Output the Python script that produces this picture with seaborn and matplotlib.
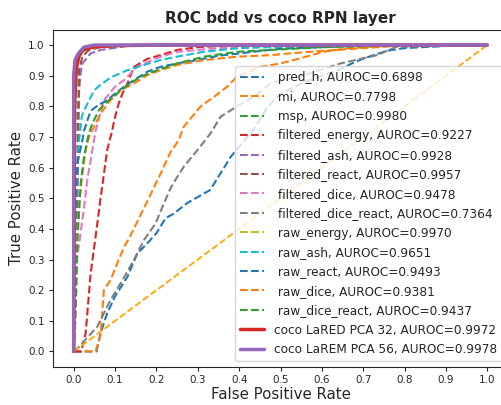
import matplotlib

matplotlib.use("Agg")

import matplotlib.pyplot as plt
import seaborn as sns

# ROC points (fpr, tpr)
pred_h_fpr = [0, 0.055, 0.065, 0.081, 0.10, 0.13, 0.154, 0.178, 0.20, 0.222, 0.242, 0.275, 0.33, 0.38, 0.435, 0.47, 0.5, 0.55, 0.6, 0.64, 0.68, 0.72, 0.76, 0.8, 0.9, 1.0]
pred_h_tpr = [0, 0, 0.06, 0.125, 0.18, 0.244, 0.32, 0.353, 0.386, 0.435, 0.45, 0.485, 0.527, 0.636, 0.725, 0.8, 0.84, 0.875, 0.9, 0.918, 0.945, 0.965, 0.982, 0.99, 0.997, 1.0]

mi_fpr = [0, 0.053, 0.065, 0.073, 0.089, 0.10, 0.122, 0.134, 0.154, 0.178, 0.21, 0.234, 0.254, 0.266, 0.307, 0.339, 0.371, 0.395, 0.452, 0.5, 0.548, 0.604, 0.661, 0.72, 0.8, 1.0]
mi_tpr = [0, 0, 0.054, 0.2, 0.233, 0.27, 0.342, 0.369, 0.424, 0.49, 0.58, 0.65, 0.69, 0.733, 0.8, 0.831, 0.864, 0.897, 0.929, 0.94, 0.957, 0.978, 0.989, 0.995, 1.0, 1.0]

msp_fpr = [0, 0.003, 0.006, 0.012, 0.02, 0.04, 0.08, 0.2, 1.0]
msp_tpr = [0, 0.6, 0.95, 0.975, 0.988, 0.995, 0.998, 1.0, 1.0]

f_energy_fpr = [0, 0.018, 0.029, 0.041, 0.053, 0.065, 0.081, 0.093, 0.098, 0.109, 0.118, 0.13, 0.146, 0.178, 0.21, 0.25, 0.3, 0.4, 1.0]
f_energy_tpr = [0, 0, 0.06, 0.255, 0.375, 0.5, 0.657, 0.72, 0.755, 0.81, 0.842, 0.875, 0.929, 0.955, 0.967, 0.984, 0.993, 1.0, 1.0]

f_ash_fpr = [0, 0.008, 0.013, 0.017, 0.021, 0.041, 0.065, 0.13, 0.25, 1.0]
f_ash_tpr = [0, 0.4, 0.85, 0.91, 0.94, 0.973, 0.984, 0.997, 1.0, 1.0]

f_react_fpr = [0, 0.008, 0.011, 0.013, 0.021, 0.035, 0.06, 0.12, 0.3, 1.0]
f_react_tpr = [0, 0.5, 0.8, 0.92, 0.962, 0.982, 0.992, 0.998, 1.0, 1.0]

f_dice_fpr = [0, 0.004, 0.008, 0.013, 0.017, 0.025, 0.033, 0.053, 0.073, 0.1, 0.122, 0.154, 0.2, 0.25, 0.35, 0.5, 1.0]
f_dice_tpr = [0, 0.1, 0.3, 0.35, 0.39, 0.47, 0.56, 0.72, 0.82, 0.864, 0.886, 0.929, 0.957, 0.978, 0.99, 0.996, 1.0]

f_dice_react_fpr = [0, 0.009, 0.057, 0.089, 0.118, 0.146, 0.17, 0.198, 0.218, 0.234, 0.246, 0.266, 0.299, 0.331, 0.355, 0.395, 0.435, 0.476, 0.572, 0.645, 0.733, 0.78, 1.0]
f_dice_react_tpr = [0, 0.01, 0.081, 0.168, 0.233, 0.3, 0.364, 0.418, 0.483, 0.532, 0.56, 0.603, 0.657, 0.712, 0.766, 0.8, 0.831, 0.875, 0.908, 0.94, 0.967, 0.994, 1.0]

r_energy_fpr = [0, 0.003, 0.008, 0.015, 0.03, 0.06, 0.15, 1.0]
r_energy_tpr = [0, 0.7, 0.93, 0.97, 0.985, 0.995, 1.0, 1.0]

r_ash_fpr = [0, 0.004, 0.009, 0.013, 0.02, 0.03, 0.041, 0.05, 0.061, 0.089, 0.13, 0.17, 0.21, 0.25, 0.315, 0.4, 0.6, 1.0]
r_ash_tpr = [0, 0.4, 0.6, 0.69, 0.77, 0.8, 0.83, 0.853, 0.866, 0.894, 0.918, 0.935, 0.951, 0.962, 0.978, 0.99, 0.998, 1.0]

r_react_fpr = [0, 0.005, 0.009, 0.021, 0.025, 0.037, 0.045, 0.061, 0.081, 0.1, 0.122, 0.146, 0.178, 0.21, 0.25, 0.283, 0.35, 0.5, 0.7, 1.0]
r_react_tpr = [0, 0.5, 0.614, 0.69, 0.72, 0.77, 0.79, 0.805, 0.82, 0.842, 0.864, 0.886, 0.913, 0.929, 0.94, 0.947, 0.965, 0.988, 0.998, 1.0]

r_dice_fpr = [0, 0.005, 0.009, 0.013, 0.021, 0.029, 0.037, 0.049, 0.065, 0.089, 0.114, 0.146, 0.178, 0.21, 0.25, 0.315, 0.395, 0.476, 0.524, 0.6, 0.7, 0.78, 1.0]
r_dice_tpr = [0, 0.2, 0.396, 0.483, 0.58, 0.657, 0.7, 0.733, 0.777, 0.82, 0.853, 0.875, 0.902, 0.918, 0.935, 0.951, 0.962, 0.967, 0.973, 0.981, 0.99, 0.997, 1.0]

r_dice_react_fpr = [0, 0.005, 0.009, 0.013, 0.017, 0.025, 0.033, 0.037, 0.045, 0.061, 0.081, 0.105, 0.13, 0.162, 0.202, 0.25, 0.315, 0.395, 0.476, 0.6, 0.8, 1.0]
r_dice_react_tpr = [0, 0.15, 0.364, 0.451, 0.549, 0.636, 0.69, 0.712, 0.744, 0.788, 0.815, 0.842, 0.869, 0.897, 0.918, 0.94, 0.962, 0.978, 0.984, 0.993, 0.999, 1.0]

lared_fpr = [0, 0.002, 0.006, 0.012, 0.021, 0.035, 0.049, 0.089, 0.2, 1.0]
lared_tpr = [0, 0.8, 0.92, 0.96, 0.984, 0.99, 0.994, 0.998, 1.0, 1.0]

larem_fpr = [0, 0.0, 0.003, 0.008, 0.013, 0.025, 0.049, 1.0]
larem_tpr = [0, 0.9, 0.95, 0.965, 0.975, 0.993, 1.0, 1.0]

chance_fpr = [0, 1]
chance_tpr = [0, 1]

baselines = [
    ("pred_h", 0.6898, pred_h_fpr, pred_h_tpr),
    ("mi", 0.7798, mi_fpr, mi_tpr),
    ("msp", 0.9980, msp_fpr, msp_tpr),
    ("filtered_energy", 0.9227, f_energy_fpr, f_energy_tpr),
    ("filtered_ash", 0.9928, f_ash_fpr, f_ash_tpr),
    ("filtered_react", 0.9957, f_react_fpr, f_react_tpr),
    ("filtered_dice", 0.9478, f_dice_fpr, f_dice_tpr),
    ("filtered_dice_react", 0.7364, f_dice_react_fpr, f_dice_react_tpr),
    ("raw_energy", 0.9970, r_energy_fpr, r_energy_tpr),
    ("raw_ash", 0.9651, r_ash_fpr, r_ash_tpr),
    ("raw_react", 0.9493, r_react_fpr, r_react_tpr),
    ("raw_dice", 0.9381, r_dice_fpr, r_dice_tpr),
    ("raw_dice_react", 0.9437, r_dice_react_fpr, r_dice_react_tpr),
]
ours = [
    ("coco LaRED PCA 32", 0.9972, lared_fpr, lared_tpr),
    ("coco LaREM PCA 56", 0.9978, larem_fpr, larem_tpr),
]

sns.set_style("ticks")
palette = sns.color_palette("tab10")

fig = plt.figure(figsize=(5.02, 4.05), dpi=100)
ax = fig.add_axes([0.1056, 0.0943, 0.9064, 0.8323])

for i, (name, auroc, fpr, tpr) in enumerate(baselines):
    sns.lineplot(x=fpr, y=tpr, ax=ax, sort=False, estimator=None,
                 color=palette[i % 10], linestyle="--", linewidth=1.5,
                 label=f" {name}, AUROC={auroc:.4f}")

sns.lineplot(x=chance_fpr, y=chance_tpr, ax=ax, sort=False, estimator=None,
             color="orange", linestyle="--", linewidth=1.3)

for (name, auroc, fpr, tpr), c in zip(ours, [palette[3], palette[4]]):
    sns.lineplot(x=fpr, y=tpr, ax=ax, sort=False, estimator=None,
                 color=c, linewidth=2.5, label=f"{name}, AUROC={auroc:.4f}")

ax.set_xlim(-0.05, 1.05)
ax.set_ylim(-0.05, 1.05)
ax.set_xticks([i / 10 for i in range(11)])
ax.set_yticks([i / 10 for i in range(11)])
ax.tick_params(labelsize=7.5, length=3, width=0.8, pad=3)
ax.set_xlabel("False Positive Rate", fontsize=10.8, labelpad=1)
ax.set_ylabel("True Positive Rate", fontsize=10.8, labelpad=3)
ax.set_title("ROC bdd vs coco RPN layer", fontsize=11, fontweight="bold", pad=5)
ax.legend(loc="lower right", fontsize=8.7, framealpha=0.8, labelspacing=0.53)

fig.savefig("out.png", dpi=100)
